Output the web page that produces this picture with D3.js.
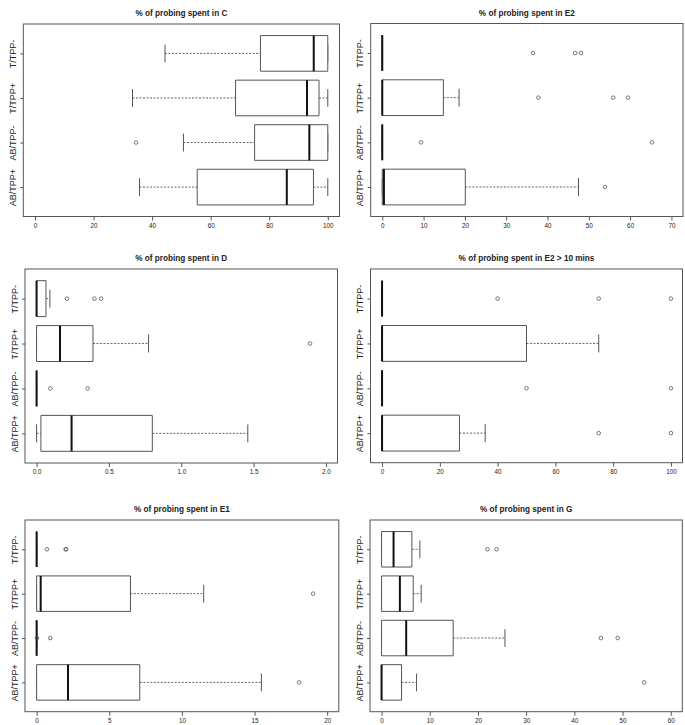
<!DOCTYPE html>
<html>
<head>
<meta charset="utf-8">
<script src="https://cdn.jsdelivr.net/npm/d3@7"></script>
<style>
  html, body { margin: 0; padding: 0; background: #fff; }
  svg { display: block; font-family: "Liberation Sans", Arial, sans-serif; }
</style>
</head>
<body>
<svg id="chart" width="685" height="725"></svg>
<script>
// ---------- DATA ----------
// groups listed bottom -> top (R horizontal boxplot order)
const groups = ["AB/TPP+", "AB/TPP-", "T/TPP+", "T/TPP-"];

const titles = [
  "% of probing spent in C",
  "% of probing spent in E2",
  "% of probing spent in D",
  "% of probing spent in E2 > 10 mins",
  "% of probing spent in E1",
  "% of probing spent in G"
];

const axisMax  = [100, 70, 2, 100, 20, 60];
const tickStep = [20, 10, 0.5, 20, 5, 10];
const tickFormat = ["d", "d", ".1f", "d", "d", "d"];

// [lower whisker, Q1, median, Q3, upper whisker] per group (bottom -> top)
const statsC   = [[35.7, 55.4, 86.0, 95.1, 100], [50.7, 75.0, 93.7, 100, 100], [33.3, 68.5, 92.9, 97.0, 100], [44.4, 77.0, 95.2, 100, 100]];
const outliersC = [[], [34.5], [], []];

const statsE2   = [[0, 0, 0.4, 20.1, 47.5], [0, 0, 0, 0, 0], [0, 0, 0, 14.8, 18.6], [0, 0, 0, 0, 0]];
const outliersE2 = [[53.9], [9.4, 65.3], [37.8, 55.9, 59.5], [36.5, 46.7, 48.1]];

const statsD   = [[0, 0.03, 0.242, 0.80, 1.46], [0, 0, 0, 0, 0], [0, 0, 0.162, 0.39, 0.774], [0, 0, 0, 0.065, 0.092]];
const outliersD = [[], [0.095, 0.353], [1.89], [0.21, 0.40, 0.446]];

const statsE2L   = [[0, 0, 0, 26.8, 35.7], [0, 0, 0, 0, 0], [0, 0, 0, 50, 75], [0, 0, 0, 0, 0]];
const outliersE2L = [[75, 100], [50, 100], [], [40, 75, 100]];

const statsE1   = [[0, 0, 2.16, 7.1, 15.47], [0, 0, 0, 0, 0], [0, 0, 0.28, 6.46, 11.5], [0, 0, 0, 0, 0]];
const outliersE1 = [[18.07], [0.02, 0.94], [19.03], [0.71, 2.0, 2.03]];

const statsG   = [[0, 0, 0, 4.15, 7.26], [0, 0, 5.11, 14.86, 25.6], [0, 0, 3.8, 6.57, 8.22], [0, 0, 2.49, 6.29, 7.95]];
const outliersG = [[54.5], [45.5, 49.0], [], [21.98, 23.84]];

const panelStats = [statsC, statsE2, statsD, statsE2L, statsE1, statsG];
const panelOutliers = [outliersC, outliersE2, outliersD, outliersE2L, outliersE1, outliersG];

// ---------- LAYOUT ----------
const frames = [
  {x0: 23.3, x1: 339.5, y0: 24,  y1: 216.5},
  {x0: 370.7, x1: 683,  y0: 23.5, y1: 216.5},
  {x0: 25,   x1: 337.5, y0: 269, y1: 463},
  {x0: 370.5, x1: 682.5, y0: 269, y1: 462.7},
  {x0: 25,   x1: 338.8, y0: 520, y1: 711.7},
  {x0: 370,  x1: 682.3, y0: 520, y1: 711.7}
];

const svg = d3.select("#chart");
const lineCol = "#555";
const textCol = "#222";

frames.forEach((f, p) => {
  const g = svg.append("g");
  const max = axisMax[p];
  const x = d3.scaleLinear().domain([-0.04 * max, 1.04 * max]).range([f.x0, f.x1]);
  const y = d3.scaleLinear().domain([0.34, 4.66]).range([f.y1, f.y0]);
  const bw = Math.abs(y(1.4) - y(1.0)); // half box height (boxwex 0.8)
  const sw = bw / 2; // half staple

  // frame
  g.append("rect")
    .attr("x", f.x0).attr("y", f.y0)
    .attr("width", f.x1 - f.x0).attr("height", f.y1 - f.y0)
    .attr("fill", "none").attr("stroke", lineCol).attr("stroke-width", 1);

  // title
  g.append("text")
    .attr("x", (f.x0 + f.x1) / 2).attr("y", f.y0 - 8)
    .attr("text-anchor", "middle")
    .attr("font-size", 8.2).attr("font-weight", "bold").attr("fill", textCol)
    .text(titles[p]);

  // x axis
  const ticks = d3.range(0, max + tickStep[p] / 2, tickStep[p]);
  const xAxis = d3.axisBottom(x).tickValues(ticks)
    .tickFormat(d3.format(tickFormat[p])).tickSize(4).tickPadding(3);
  const ax = g.append("g").attr("transform", `translate(0,${f.y1})`).call(xAxis);
  ax.select(".domain").remove();
  ax.selectAll(".tick line").attr("stroke", lineCol);
  ax.selectAll(".tick text").attr("font-size", 6.3).attr("fill", textCol)
    .attr("font-family", "Liberation Sans, Arial, sans-serif");

  // y axis
  const yAxis = d3.axisLeft(y).tickValues([1, 2, 3, 4])
    .tickFormat(d => groups[d - 1]).tickSize(3).tickPadding(0);
  const ay = g.append("g").attr("transform", `translate(${f.x0},0)`).call(yAxis);
  ay.select(".domain").remove();
  ay.selectAll(".tick line").attr("stroke", lineCol);
  ay.selectAll(".tick text")
    .attr("font-size", 9).attr("fill", textCol)
    .attr("font-family", "Liberation Sans, Arial, sans-serif")
    .attr("text-anchor", "middle")
    .attr("x", 0).attr("dy", 0)
    .attr("transform", "translate(-10.5,0) rotate(-90)")
    .attr("dominant-baseline", "central");

  // boxes
  panelStats[p].forEach((s, i) => {
    const yc = y(i + 1);
    const [lo, q1, med, q3, hi] = s;
    const bg = g.append("g");
    // whiskers (dashed)
    bg.append("line").attr("x1", x(lo)).attr("x2", x(q1)).attr("y1", yc).attr("y2", yc)
      .attr("stroke", lineCol).attr("stroke-dasharray", "2,1.5").attr("stroke-width", 0.9);
    bg.append("line").attr("x1", x(q3)).attr("x2", x(hi)).attr("y1", yc).attr("y2", yc)
      .attr("stroke", lineCol).attr("stroke-dasharray", "2,1.5").attr("stroke-width", 0.9);
    // staples
    [lo, hi].forEach(v => {
      bg.append("line").attr("x1", x(v)).attr("x2", x(v)).attr("y1", yc - sw).attr("y2", yc + sw)
        .attr("stroke", lineCol).attr("stroke-width", 1);
    });
    // box
    bg.append("path")
      .attr("d", `M${x(q1)},${yc - bw}H${x(q3)}V${yc + bw}H${x(q1)}Z`)
      .attr("fill", "#fff").attr("stroke", lineCol).attr("stroke-width", 1);
    // median
    bg.append("line").attr("x1", x(med)).attr("x2", x(med)).attr("y1", yc - bw).attr("y2", yc + bw)
      .attr("stroke", "#111").attr("stroke-width", 2);
    // outliers
    panelOutliers[p][i].forEach(v => {
      bg.append("circle").attr("cx", x(v)).attr("cy", yc).attr("r", 1.8)
        .attr("fill", "none").attr("stroke", "#555").attr("stroke-width", 0.8);
    });
  });
});
</script>
</body>
</html>
